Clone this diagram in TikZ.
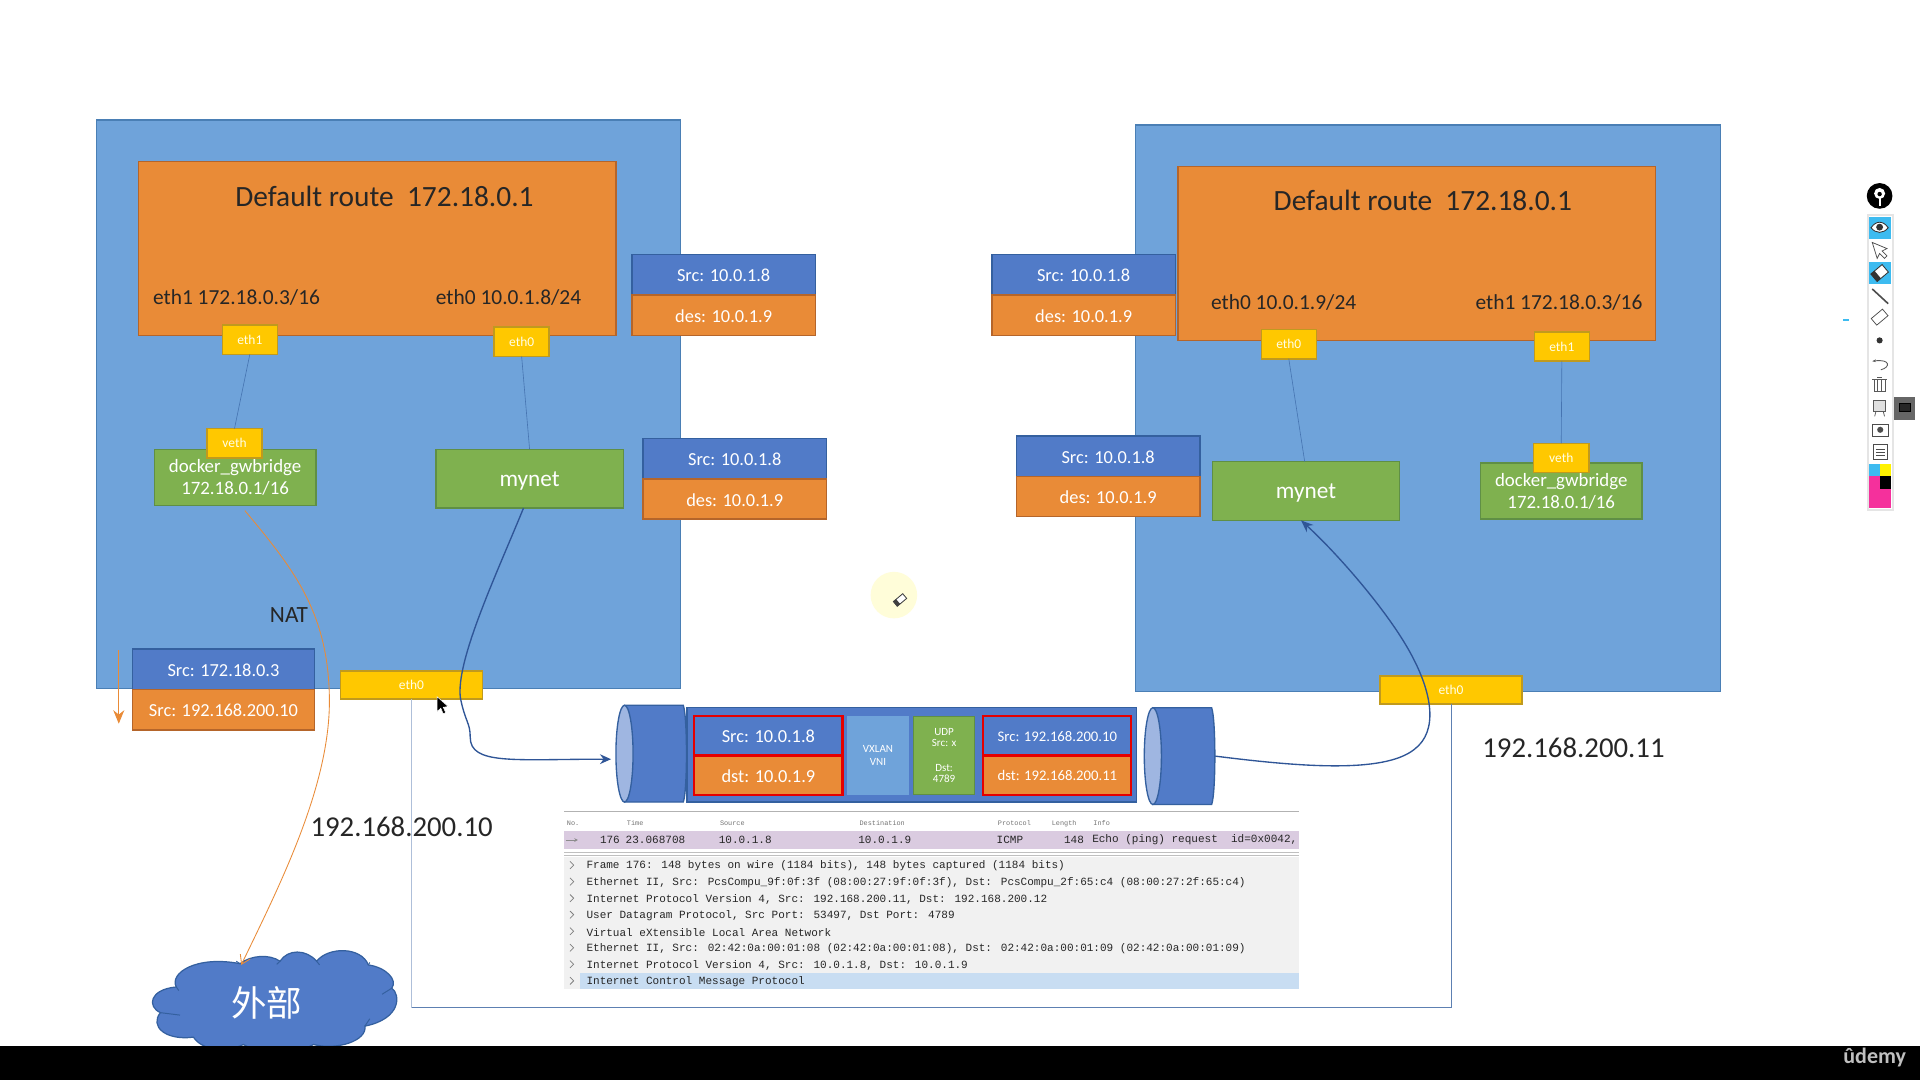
\documentclass[tikz,border=0pt]{standalone}
\usepackage{fontspec}
\setmainfont{Carlito}
\newfontfamily\monofont{Liberation Mono}
\newfontfamily\cjkfont{Noto Sans CJK SC}
\usetikzlibrary{arrows.meta,calc}
\definecolor{hostblue}{HTML}{6FA3DA}
\definecolor{hostline}{HTML}{4A7FB5}
\definecolor{routeorange}{HTML}{E98B37}
\definecolor{routeline}{HTML}{B5652A}
\definecolor{portyellow}{HTML}{FFC800}
\definecolor{portline}{HTML}{C09A1E}
\definecolor{netgreen}{HTML}{7FB14F}
\definecolor{netline}{HTML}{5F8F45}
\definecolor{msgblue}{HTML}{517BC8}
\definecolor{msgline}{HTML}{34609F}
\definecolor{flowblue}{HTML}{2F5597}
\definecolor{rowpurple}{HTML}{DACBE0}
\definecolor{rowblue}{HTML}{C8DDF2}
\definecolor{panelgray}{HTML}{F1F1F1}
\definecolor{toolpink}{HTML}{F5309C}
\definecolor{toolcyan}{HTML}{3DBBF0}
\newdimen\fsskip
\newcommand{\fs}[1]{\fsskip=#1pt \fsskip=1.25\fsskip \fontsize{#1}{\fsskip}\selectfont}

\begin{document}
\begin{tikzpicture}[x=1pt,y=-1pt,>=stealth,
  every node/.style={inner sep=0pt,outer sep=0pt},
  hostbox/.style={draw=hostline,fill=hostblue,line width=1pt,anchor=north west},
  routerbox/.style={draw=routeline,fill=routeorange,line width=1.2pt,minimum width=390,minimum height=142,anchor=north west},
  label/.style={text=black!85,font=\fs{17.5},anchor=west},
  portbox/.style={draw=portline,fill=portyellow,line width=1.2pt,text=white!90!yellow,font=\fs{11},minimum width=45,minimum height=24},
  wideport/.style={portbox,minimum width=116,minimum height=23},
  netbox/.style={draw=netline,fill=netgreen,line width=1.2pt,text=white,align=center},
  srcbox/.style={draw=msgline,fill=msgblue,line width=1.2pt,text=white,font=\fs{15},text height=11.5pt,text depth=0pt,minimum width=150,minimum height=33,anchor=north west},
  dstbox/.style={srcbox,draw=routeline,fill=routeorange},
  redsrc/.style={draw=red!90!black,fill=msgblue,line width=1.7pt,text=white,font=\fs{15},text height=11.5pt,text depth=0pt,minimum width=121,minimum height=32,anchor=north west},
  reddst/.style={redsrc,fill=routeorange},
  wire/.style={draw=msgline!70!hostblue,line width=0.5pt},
  flow/.style={draw=flowblue,line width=1.1pt},
  mono/.style={font=\monofont\fs{9},text=black!85,anchor=west},
  colhead/.style={font=\monofont\fs{5.6},text=black!55,anchor=base west}]
  \useasboundingbox (0,0) rectangle (1568,882);
  \fill[white] (0,0) rectangle (1568,882);
  % Hosts
  \node[hostbox,minimum width=477,minimum height=464] (hostL) at (79,98) {};
  \node[hostbox,minimum width=478,minimum height=463] (hostR) at (927,102) {};
  % Routers
  \node[routerbox] (routerL) at (113,132) {};
  \node[font=\fs{24},text=black!85] (routeL) at (314,160) {Default route\ \ 172.18.0.1};
  \node[label] (ethOneL) at (125,243) {eth1 172.18.0.3/16};
  \node[label] (ethZeroL) at (356,243) {eth0 10.0.1.8/24};
  \node[routerbox] (routerR) at (962,136) {};
  \node[font=\fs{24},text=black!85] (routeR) at (1162,164) {Default route\ \ 172.18.0.1};
  \node[label] (ethZeroR) at (989,247) {eth0 10.0.1.9/24};
  \node[label] (ethOneR) at (1205,247) {eth1 172.18.0.3/16};
  % Networks
  \node[netbox,minimum width=132,minimum height=46,font=\fs{15.4}] (gwL) at (192,390) {docker\_gwbridge\\[-1.5pt]172.18.0.1/16};
  \node[netbox,minimum width=153,minimum height=48,font=\fs{19},text height=12pt,text depth=0pt] (mynetL) at (432.5,391) {mynet};
  \node[netbox,minimum width=153,minimum height=48,font=\fs{19},text height=12pt,text depth=0pt] (mynetR) at (1066.5,401) {mynet};
  \node[netbox,minimum width=132,minimum height=46,font=\fs{15.4}] (gwR) at (1275,401) {docker\_gwbridge\\[-1.5pt]172.18.0.1/16};
  % Ports
  \node[portbox] (portOneL) at (204,277.5) {eth1};
  \node[portbox] (portZeroL) at (426,279) {eth0};
  \node[portbox] (vethL) at (191.5,362) {veth};
  \node[portbox] (portZeroR) at (1052.5,281) {eth0};
  \node[portbox] (portOneR) at (1275.5,283) {eth1};
  \node[portbox] (vethR) at (1275,374) {veth};
  % Messages
  \node[srcbox] (msgA) at (516,208) {Src: 10.0.1.8};
  \node[dstbox] (msgAd) at (516,241) {des: 10.0.1.9};
  \node[srcbox] (msgB) at (525,358) {Src: 10.0.1.8};
  \node[dstbox] (msgBd) at (525,391) {des: 10.0.1.9};
  \node[srcbox] (msgC) at (810,208) {Src: 10.0.1.8};
  \node[dstbox] (msgCd) at (810,241) {des: 10.0.1.9};
  \node[srcbox] (msgD) at (830,356) {Src: 10.0.1.8};
  \node[dstbox] (msgDd) at (830,389) {des: 10.0.1.9};
  \node[srcbox,minimum width=149] (natA) at (108,530) {Src: 172.18.0.3};
  \node[dstbox,minimum width=149] (natB) at (108,563) {Src: 192.168.200.10};
  \node[text=black!85,font=\fs{19}] (natText) at (236,502) {NAT};
  % Capture frame
  \node[wideport] (wanL) at (336,559.5) {eth0};
  \node[wideport] (wanR) at (1185,563.5) {eth0};
  \coordinate (frameB) at (760,823);
  \draw[draw=msgline!80!white,line width=0.8pt] (wanL.south) |- (frameB) -| (wanR.south);
  \draw[draw=msgline!40!white,line width=0.9pt] (wanL.south) -- (wanL.south |- frameB);
  \node[font=\fs{23.5},text=black!85] (ipL) at (328,675) {192.168.200.10};
  \node[font=\fs{23.5},text=black!85] (ipR) at (1285,611) {192.168.200.11};
  % Tunnel
  \node[minimum width=58,minimum height=79] (tubeL) at (532,615.5) {};
  \node[minimum width=58,minimum height=79] (tubeR) at (963.5,617.5) {};
  \foreach \tube in {tubeL,tubeR} {
    \begin{scope}[shift={(\tube.center)}]
      \draw[draw=msgline,fill=msgblue,line width=1.1pt] (-22,-39.5) -- (26,-39.5) .. controls (29.5,-30) and (29.5,30) .. (26,39.5) -- (-22,39.5) -- cycle;
      \draw[draw=msgline,fill=msgblue!55!white,line width=1.1pt] (-22,0) circle [x radius=7,y radius=39.5];
    \end{scope}
  }
  \node[draw=msgline,fill=msgblue,line width=1.2pt,minimum width=367,minimum height=77,anchor=north west] (packet) at (561,578) {};
  \node[redsrc] (innerSrc) at (567,585) {Src: 10.0.1.8};
  \node[reddst] (innerDst) at (567,617) {dst: 10.0.1.9};
  \node[draw=hostblue,fill=hostblue,minimum width=50,minimum height=64,anchor=north west,text=white,font=\fs{9},align=center] (vxlan) at (692,585) {VXLAN\\VNI};
  \node[draw=netline,fill=netgreen,line width=1.2pt,minimum width=50,minimum height=64,anchor=north west,text=white,font=\fs{9},align=center] (udp) at (746,585) {UDP\\[-1.7pt]Src: x\\[8.5pt]Dst:\\[-1.7pt]4789};
  \node[redsrc,font=\fs{12},text height=9pt] (outerSrc) at (803,585) {Src: 192.168.200.10};
  \node[reddst,font=\fs{12},text height=9pt] (outerDst) at (803,617) {dst: 192.168.200.11};
  % Capture
  \draw[black!30,line width=0.8pt] (461,663) -- (1061,663);
  \foreach \name/\x/\txt in {a/463/No., b/512/Time, c/588/Source, d/702/Destination, e/815/Protocol, f/859/Length, g/893/Info}
    \node[colhead] (head\name) at (\x,674) {\txt};
  \fill[rowpurple] (461,679) rectangle (1061,693);
  \foreach \name/\x/\txt in {a/490/176, b/511/23.068708, c/587/10.0.1.8, d/701/10.0.1.9, e/814/ICMP, f/869/148, g/892/{Echo (ping) request\ \ id=0x0042,}}
    \node[mono] (sel\name) at (\x,685.5) {\txt};
  \draw[black!45,line width=0.8pt,-{Stealth[length=3pt,width=3pt]}] (462,686) -- (472,686);
  \draw[black!25,line width=0.7pt] (461,696) -- (1061,696) (461,699) -- (1061,699);
  \fill[panelgray] (461,700) rectangle (1061,808);
  \fill[rowblue] (474,795) rectangle (1061,808);
  \foreach \y/\txt in {
    706.5/{Frame 176: 148 bytes on wire (1184 bits), 148 bytes captured (1184 bits)},
    720/{Ethernet II, Src: PcsCompu\_9f:0f:3f (08:00:27:9f:0f:3f), Dst: PcsCompu\_2f:65:c4 (08:00:27:2f:65:c4)},
    733.5/{Internet Protocol Version 4, Src: 192.168.200.11, Dst: 192.168.200.12},
    747/{User Datagram Protocol, Src Port: 53497, Dst Port: 4789},
    760.5/{Virtual eXtensible Local Area Network},
    774/{Ethernet II, Src: 02:42:0a:00:01:08 (02:42:0a:00:01:08), Dst: 02:42:0a:00:01:09 (02:42:0a:00:01:09)},
    787.5/{Internet Protocol Version 4, Src: 10.0.1.8, Dst: 10.0.1.9},
    801/{Internet Control Message Protocol}} {
    \node[mono] (row\y) at (479,\y+0.8) {\txt};
    \draw[black!50,line width=0.6pt] (465.5,\y-3) -- (468.5,\y) -- (465.5,\y+3);
  }
  % Cloud and bottom bar
  \draw[draw=msgline,fill=msgblue,line width=1pt] (196,787) .. controls (205,780) and (220,779) .. (228.7,785) .. controls (235,775) and (250,775) .. (258.6,785) .. controls (268,773) and (295,773) .. (300.8,788) .. controls (315,790) and (325,800) .. (320,807) .. controls (327,812) and (328,832) .. (298,838) .. controls (300,850) and (275,858) .. (256,853) .. controls (240,862) and (215,862) .. (198.7,853) .. controls (185,860) and (165,858) .. (158,847) .. controls (135,850) and (122,838) .. (131,827) .. controls (120,822) and (122,808) .. (144,806) .. controls (138,795) and (160,780) .. cycle;
  \draw[draw=msgline,line width=0.8pt] (196,787) -- (193,785) (228.7,785) -- (226,787.5) (258.6,785) -- (261,788) (300.8,788) -- (302,786) (320,807) -- (312,812) (298,838) -- (302,832) (131,827) -- (147,829) (144,806) -- (146,809);
  \node[minimum width=200,minimum height=80,text=white,font=\cjkfont\fs{29}] (outside) at (218,819) {外部};
  \fill[black] (0,854) rectangle (1568,882);
  \node[text=white!75!black,font=\bfseries\fs{18}] (udemy) at (1531,864) {ûdemy};
  % Edges
  \draw[wire] (portOneL.south) -- (vethL.north);
  \draw[wire] (portZeroL.south) -- (mynetL.north);
  \draw[wire] (portZeroR.south) -- ([xshift=-1]mynetR.north);
  \draw[wire] (portOneR.south) -- (vethR.north);
  \draw[flow,-{Stealth[length=9pt,width=8pt]}] ([xshift=-5]mynetL.south) .. controls (405,470) and (372,540) .. (376,570) .. controls (380,590) and (384,590) .. (384,602) .. controls (384,625) and (420,620) .. ([yshift=-4.5,xshift=-4]tubeL.west);
  \draw[flow,-{Stealth[length=10pt,width=8pt]}] (tubeR.east) .. controls (1060,626) and (1130,632) .. (1155,612) .. controls (1175,597) and (1170,565) .. (1150,530) .. controls (1130,495) and (1090,450) .. ([xshift=-4]mynetR.south);
  \draw[routeorange,line width=0.7pt,-{Straight Barb[length=7pt,width=9pt]}] ([xshift=8,yshift=-4]gwL.south) .. controls (240,465) and (268,500) .. (269,570) .. controls (270,640) and (230,720) .. ([xshift=-21,yshift=-9]outside.north);
  \coordinate (natTop) at (97,531);
  \coordinate (natEnd) at (97,591);
  \draw[routeorange,line width=0.7pt,-{Stealth[length=11pt,width=9pt]}] (natTop) -- (natEnd);
  % Mouse and pen
  \fill[black,draw=white,line width=0.4pt] (357,569) -- (357,581) -- (360,578.4) -- (362,583) -- (364,582) -- (362,577.6) -- (366,577) -- cycle;
  \fill[yellow!15!white] (730,486) circle (19);
  \draw[black!75,fill=white,line width=0.7pt,rotate around={40:(735,490)}] (730,487.5) rectangle (740,492.5);
  \fill[black!75,rotate around={40:(735,490)}] (730,487.5) rectangle (733,492.5);
  % Toolbar
  \fill[black!10] (1524.5,175) rectangle (1546.5,417);
  \fill[white] (1526,176) rectangle (1545,416);
  \fill[black] (1535,160) circle (10.5);
  \fill[white] (1535,158) circle (4.5);
  \fill[white] (1534.2,160) rectangle (1535.8,168);
  \fill[black] (1535,158.5) circle (1.8);
  \fill[toolcyan] (1526,177) rectangle (1544,195);
  \fill[toolcyan] (1526,214) rectangle (1544,232);
  \draw[black!80,fill=white,line width=0.7pt] (1528,186) .. controls (1532,180) and (1538,180) .. (1542,186) .. controls (1538,191) and (1532,191) .. cycle;
  \fill[black!80] (1535,185.5) circle (2.8);
  \draw[black!70,fill=white,line width=0.6pt] (1529,198) -- (1541,203) -- (1537,205) -- (1541,209) -- (1539,211) -- (1535,207) -- (1533,211) -- cycle;
  \draw[black!80,fill=white,line width=0.7pt,rotate around={40:(1535,223)}] (1529,219) rectangle (1541,227);
  \fill[black!80,rotate around={40:(1535,223)}] (1529,219) rectangle (1533,227);
  \draw[black!70,line width=1.3pt] (1529,236) -- (1542,248);
  \draw[black!70,fill=white,line width=0.6pt,rotate around={40:(1535,259)}] (1529,255.5) rectangle (1541,262.5);
  \fill[black!80] (1535,278) circle (2.5);
  \draw[black!65,line width=0.7pt,-{Stealth[length=3pt]}] (1536,302) .. controls (1544,300) and (1544,293) .. (1529,295);
  \draw[black!65,fill=white,line width=0.6pt] (1530.5,310) rectangle (1539.5,320);
  \draw[black!65,line width=0.6pt] (1529,310) -- (1541,310) (1533.5,310) -- (1533.5,320) (1536.5,310) -- (1536.5,320) (1533,308) -- (1537,308);
  \draw[black!65,fill=black!12,line width=0.6pt] (1530,327) rectangle (1540,336);
  \draw[black!65,line width=0.6pt] (1532,336) -- (1531,340) (1538,336) -- (1539,340);
  \fill[black!60] (1547,324) rectangle (1564,343);
  \draw[black,fill=black!85,line width=0.5pt] (1551,329) rectangle (1560,336);
  \draw[black!70,fill=white,line width=0.6pt] (1529,346.5) rectangle (1542,356);
  \fill[black!70] (1535.5,351) circle (2.5);
  \draw[black!70,fill=white,line width=0.6pt] (1530,363) rectangle (1541,375);
  \draw[black!70,line width=0.4pt] (1532,366.5) -- (1539,366.5) (1532,369) -- (1539,369) (1532,371.5) -- (1539,371.5);
  \fill[toolpink] (1526,379) rectangle (1544,415);
  \fill[toolcyan] (1526,379) rectangle (1535,389);
  \fill[yellow] (1535,379) rectangle (1544,389);
  \fill[black] (1535,389) rectangle (1544,399);
  \fill[toolcyan] (1505,260.5) rectangle (1510,262.5);
\end{tikzpicture}
\end{document}
